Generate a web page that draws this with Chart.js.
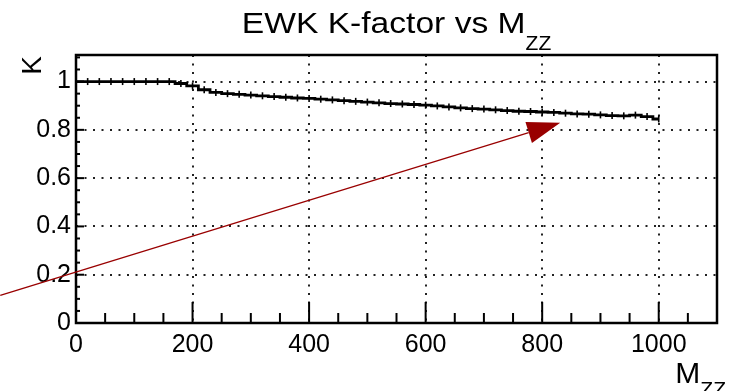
<!DOCTYPE html>
<html>
<head>
<meta charset="utf-8">
<script src="https://cdn.jsdelivr.net/npm/chart.js@4.4.1/dist/chart.umd.min.js"></script>
<style>
  html, body { margin: 0; padding: 0; background: #fff; }
  #c { display: block; }
</style>
</head>
<body>
<canvas id="c" width="729" height="391"></canvas>
<script>
// M_ZZ points (GeV) and the EWK K-factor
const mzz = [0, 20, 40, 60, 80, 100, 120, 140, 160, 180,
  200, 220, 240, 260, 280, 300, 320, 340, 360, 380,
  400, 420, 440, 460, 480, 500, 520, 540, 560, 580,
  600, 620, 640, 660, 680, 700, 720, 740, 760, 780,
  800, 820, 840, 860, 880, 900, 920, 940, 960, 980, 1000];
const kfactor = [1, 1, 1, 1, 1, 1, 1, 1, 1, 0.992,
  0.982, 0.966, 0.955, 0.950, 0.947, 0.944, 0.941, 0.938, 0.935, 0.932,
  0.930, 0.927, 0.924, 0.921, 0.918, 0.915, 0.912, 0.909, 0.907, 0.905,
  0.902, 0.899, 0.895, 0.891, 0.888, 0.886, 0.883, 0.880, 0.877, 0.876,
  0.874, 0.872, 0.869, 0.866, 0.865, 0.862, 0.859, 0.858, 0.861, 0.855, 0.845];

const xTicks = [0, 200, 400, 600, 800, 1000];
const yTicks = [0, 0.2, 0.4, 0.6, 0.8, 1];
const yTickLabels = ['0', '0.2', '0.4', '0.6', '0.8', '1'];

// red arrow drawn on top of the plot, in data coordinates
const arrowFrom = [-130, 0.114];
const arrowTo = [831, 0.829];

const FONT = '"Liberation Sans", Arial, Helvetica, sans-serif';

const rootStyle = {
  id: 'rootStyle',
  afterDraw(chart) {
    const ctx = chart.ctx;
    const a = chart.chartArea;
    const xs = chart.scales.x, ys = chart.scales.y;
    ctx.save();
    ctx.strokeStyle = '#000';
    ctx.fillStyle = '#000';

    // inward ticks, ROOT style
    ctx.lineWidth = 2;
    for (let i = 0; i <= 22; i++) {
      const px = xs.getPixelForValue(i * 50);
      const len = i % 4 === 0 ? 21 : 10;
      ctx.beginPath();
      ctx.moveTo(px, a.bottom);
      ctx.lineTo(px, a.bottom - len);
      ctx.stroke();
    }
    for (let i = 0; i <= 22; i++) {
      const py = ys.getPixelForValue(i * 0.05);
      const len = i % 4 === 0 ? 8 : 4;
      ctx.beginPath();
      ctx.moveTo(a.left, py);
      ctx.lineTo(a.left + len, py);
      ctx.stroke();
    }

    // frame
    ctx.lineWidth = 2.5;
    ctx.strokeRect(a.left, a.top, a.right - a.left, a.bottom - a.top);

    // title
    ctx.textBaseline = 'alphabetic';
    ctx.textAlign = 'left';
    const t1 = 'EWK K-factor vs M';
    ctx.font = '30px ' + FONT;
    const w1 = ctx.measureText(t1).width;
    ctx.font = '21px ' + FONT;
    const w2 = ctx.measureText('ZZ').width;
    const sx = 1.12;
    const cx = (a.left + a.right) / 2;
    ctx.save();
    ctx.translate(cx - (w1 * sx + w2) / 2, 33);
    ctx.scale(sx, 1);
    ctx.font = '30px ' + FONT;
    ctx.fillText(t1, 0, 0);
    ctx.restore();
    ctx.font = '21px ' + FONT;
    ctx.fillText('ZZ', cx - (w1 * sx + w2) / 2 + w1 * sx, 50);

    // x axis title
    ctx.font = '21px ' + FONT;
    const zw = ctx.measureText('ZZ').width;
    ctx.fillText('ZZ', 726 - zw, 396);
    ctx.font = '30px ' + FONT;
    const mw = ctx.measureText('M').width;
    ctx.fillText('M', 726 - zw - mw, 383);

    // y axis title
    ctx.save();
    ctx.translate(41, a.top + 1);
    ctx.rotate(-Math.PI / 2);
    ctx.textAlign = 'right';
    ctx.font = '28px ' + FONT;
    ctx.fillText('K', 0, 0);
    ctx.restore();

    // arrow
    const x0 = xs.getPixelForValue(arrowFrom[0]), y0 = ys.getPixelForValue(arrowFrom[1]);
    const x1 = xs.getPixelForValue(arrowTo[0]), y1 = ys.getPixelForValue(arrowTo[1]);
    const d = Math.hypot(x1 - x0, y1 - y0);
    const ux = (x1 - x0) / d, uy = (y1 - y0) / d;
    const headLen = 33, headW = 11;
    const bx = x1 - ux * headLen, by = y1 - uy * headLen;
    ctx.strokeStyle = '#990000';
    ctx.fillStyle = '#990000';
    ctx.lineWidth = 1.3;
    ctx.beginPath();
    ctx.moveTo(x0, y0);
    ctx.lineTo(bx, by);
    ctx.stroke();
    ctx.beginPath();
    ctx.moveTo(x1, y1);
    ctx.lineTo(bx - uy * headW, by + ux * headW);
    ctx.lineTo(bx + uy * headW, by - ux * headW);
    ctx.closePath();
    ctx.fill();

    ctx.restore();
  }
};

const gridColor = (c) => (c.tick && c.tick.value === 0 ? 'rgba(0,0,0,0)' : '#222');

new Chart(document.getElementById('c'), {
  type: 'line',
  data: {
    datasets: [{
      data: mzz.map((m, i) => ({ x: m, y: kfactor[i] })),
      borderColor: '#000',
      borderWidth: 2.8,
      stepped: 'middle',
      pointStyle: 'line',
      rotation: 90,
      pointRadius: 3.5,
      pointBorderWidth: 1.6,
      pointBorderColor: '#000',
      pointHoverRadius: 3.5
    }]
  },
  options: {
    responsive: false,
    animation: false,
    devicePixelRatio: 1,
    layout: { padding: { top: 55, right: 12, left: 0, bottom: 0 } },
    plugins: { legend: { display: false }, tooltip: { enabled: false } },
    scales: {
      x: {
        type: 'linear',
        min: 0,
        max: 1100,
        afterBuildTicks: (s) => { s.ticks = xTicks.map(v => ({ value: v })); },
        afterFit: (s) => { s.height = 68; },
        grid: { color: gridColor, lineWidth: 2, drawTicks: false },
        border: { display: false, dash: [2, 6.5] },
        ticks: {
          padding: 7,
          maxRotation: 0,
          autoSkip: false,
          color: '#000',
          font: { family: FONT, size: 25 },
          callback: (v) => String(v)
        }
      },
      y: {
        type: 'linear',
        min: 0,
        max: 1.11,
        afterBuildTicks: (s) => { s.ticks = yTicks.map(v => ({ value: v })); },
        afterFit: (s) => { s.width = 76; },
        grid: { color: gridColor, lineWidth: 2, drawTicks: false },
        border: { display: false, dash: [2, 6.5] },
        ticks: {
          padding: 5,
          autoSkip: false,
          color: '#000',
          font: { family: FONT, size: 25 },
          callback: (v, i) => yTickLabels[i]
        }
      }
    }
  },
  plugins: [rootStyle]
});
</script>
</body>
</html>
